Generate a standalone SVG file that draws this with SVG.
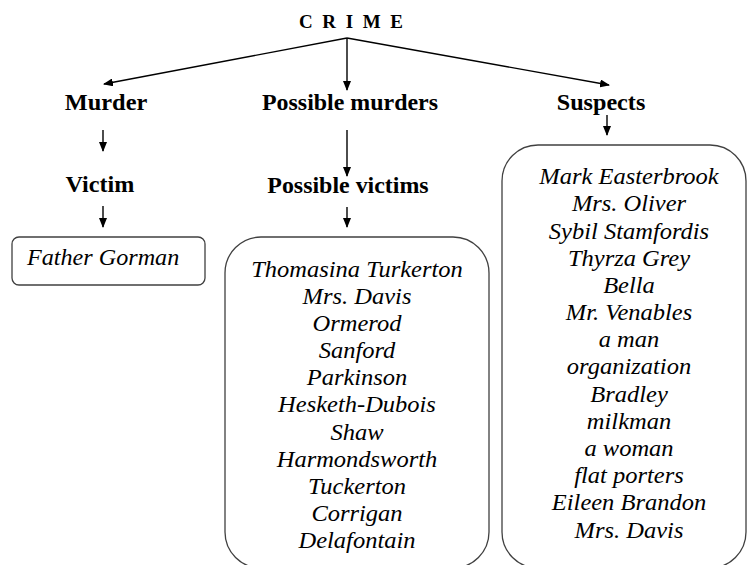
<svg xmlns="http://www.w3.org/2000/svg" width="748" height="565" viewBox="0 0 748 565">
<style>
.t{font-family:"Liberation Serif","Times New Roman",serif;fill:#000}
.h{font-weight:bold;font-size:23px;text-anchor:middle}
.i{font-style:italic;font-size:23px;text-anchor:middle}
.box{fill:#fff;stroke:#404040;stroke-width:1.3}
.c{stroke:#000;stroke-width:1.4;fill:none;marker-end:url(#ah)}
</style>
<defs>
<marker id="ah" markerUnits="userSpaceOnUse" markerWidth="10" markerHeight="8" refX="9" refY="4" orient="auto">
<path d="M0,0 L10,4 L0,8 z" fill="#000"/>
</marker>
</defs>
<rect width="748" height="565" fill="#fff"/>
<g id="crime"><text class="t" x="299" y="28" font-size="19" font-weight="bold" letter-spacing="9.6">CRIME</text></g>
<g id="murder"><text class="t h" transform="translate(106,110) scale(1.06,1)">Murder</text></g>
<g id="possible-murders"><text class="t h" transform="translate(350,110) scale(1.04,1)">Possible murders</text></g>
<g id="suspects"><text class="t h" transform="translate(601,110) scale(1.05,1)">Suspects</text></g>
<g id="victim"><text class="t h" transform="translate(100,192) scale(1.05,1)">Victim</text></g>
<g id="possible-victims"><text class="t h" transform="translate(348,193) scale(1.04,1)">Possible victims</text></g>
<g id="father-gorman">
<rect class="box" x="12" y="237" width="193" height="48" rx="7"/>
<text class="t" transform="translate(27,265) scale(1.05,1)" font-size="23" font-style="italic">Father Gorman</text>
</g>
<g id="victims-list">
<rect class="box" x="225" y="237" width="264" height="331" rx="36"/>
<text class="t i" transform="translate(357,0) scale(1.065,1)"><tspan x="0" y="277">Thomasina Turkerton</tspan><tspan x="0" y="304">Mrs. Davis</tspan><tspan x="0" y="331">Ormerod</tspan><tspan x="0" y="358">Sanford</tspan><tspan x="0" y="385">Parkinson</tspan><tspan x="0" y="412">Hesketh-Dubois</tspan><tspan x="0" y="440">Shaw</tspan><tspan x="0" y="467">Harmondsworth</tspan><tspan x="0" y="494">Tuckerton</tspan><tspan x="0" y="521">Corrigan</tspan><tspan x="0" y="548">Delafontain</tspan></text>
</g>
<g id="suspects-list">
<rect class="box" x="502" y="145" width="244" height="423" rx="36"/>
<text class="t i" transform="translate(629,0) scale(1.065,1)"><tspan x="0" y="184">Mark Easterbrook</tspan><tspan x="0" y="211">Mrs. Oliver</tspan><tspan x="0" y="239">Sybil Stamfordis</tspan><tspan x="0" y="266">Thyrza Grey</tspan><tspan x="0" y="293">Bella</tspan><tspan x="0" y="320">Mr. Venables</tspan><tspan x="0" y="347">a man</tspan><tspan x="0" y="374">organization</tspan><tspan x="0" y="402">Bradley</tspan><tspan x="0" y="429">milkman</tspan><tspan x="0" y="456">a woman</tspan><tspan x="0" y="483">flat porters</tspan><tspan x="0" y="510">Eileen Brandon</tspan><tspan x="0" y="538">Mrs. Davis</tspan></text>
</g>
<g id="connectors">
<path class="c" d="M347,38 L104,84"/>
<path class="c" d="M347,38 L347,90"/>
<path class="c" d="M347,38 L609,85"/>
<path class="c" d="M103,130 L103,151"/>
<path class="c" d="M103,206 L103,227"/>
<path class="c" d="M347,130 L347,176"/>
<path class="c" d="M347,207 L347,227"/>
<path class="c" d="M607,115 L607,135"/>
</g>
</svg>
